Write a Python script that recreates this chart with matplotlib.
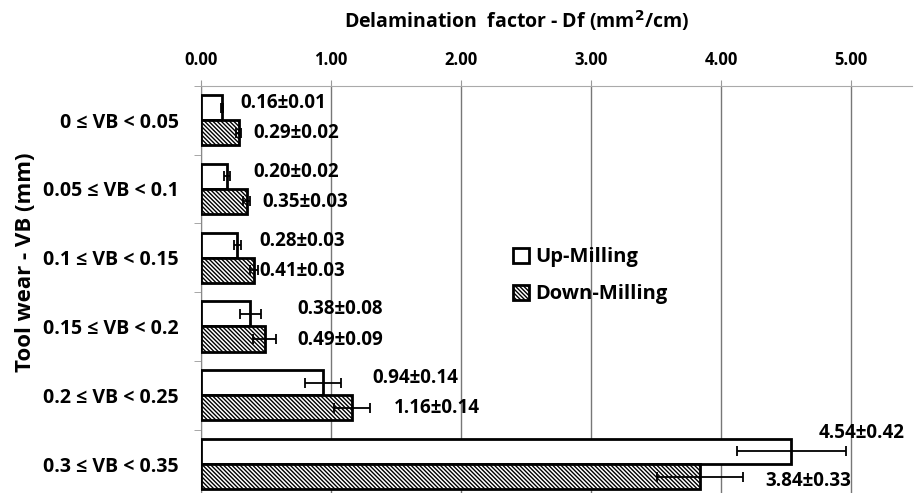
import matplotlib
matplotlib.use('Agg')
import matplotlib.pyplot as plt
import numpy as np
from matplotlib.patches import Patch

plt.rcParams['font.family'] = ['Open Sans', 'DejaVu Sans']
plt.rcParams['hatch.linewidth'] = 1.0

# data
categories = ['0 ≤ VB < 0.05', '0.05 ≤ VB < 0.1', '0.1 ≤ VB < 0.15',
              '0.15 ≤ VB < 0.2', '0.2 ≤ VB < 0.25', '0.3 ≤ VB < 0.35']
up_mean = [0.16, 0.20, 0.28, 0.38, 0.94, 4.54]
up_err = [0.01, 0.02, 0.03, 0.08, 0.14, 0.42]
down_mean = [0.29, 0.35, 0.41, 0.49, 1.16, 3.84]
down_err = [0.02, 0.03, 0.03, 0.09, 0.14, 0.33]
x_ticks = [0, 1, 2, 3, 4, 5]

# label positions (data x)
up_label_x = [0.30, 0.40, 0.45, 0.74, 1.32, 4.75]
down_label_x = [0.40, 0.47, 0.45, 0.74, 1.48, 4.34]

fig = plt.figure(figsize=(9.14, 4.93), dpi=100)
ax = fig.add_axes([0.22, -0.011, 0.778, 0.837])

hatch = '\\' * 8

y = np.arange(len(categories))
h = 0.365
ax.barh(y - h / 2, up_mean, height=h, color='white', edgecolor='black',
        linewidth=2, zorder=3)
ax.barh(y + h / 2, down_mean, height=h, color='white', edgecolor='black',
        linewidth=2, hatch=hatch, zorder=3)
ax.errorbar(up_mean, y - h / 2, xerr=up_err, fmt='none', ecolor='black',
            elinewidth=1.3, capsize=3.5, capthick=1.3, zorder=4)
ax.errorbar(down_mean, y + h / 2, xerr=down_err, fmt='none', ecolor='black',
            elinewidth=1.3, capsize=3.5, capthick=1.3, zorder=4)

for i in range(len(categories)):
    up_dy = -0.25 if i < len(categories) - 1 else -0.45
    down_dy = 0.19 if i < len(categories) - 1 else 0.24
    ax.text(up_label_x[i], y[i] + up_dy, f'{up_mean[i]:.2f}±{up_err[i]:.2f}',
            ha='left', va='center', fontsize=13.5, fontweight='bold', zorder=5)
    ax.text(down_label_x[i], y[i] + down_dy, f'{down_mean[i]:.2f}±{down_err[i]:.2f}',
            ha='left', va='center', fontsize=13.5, fontweight='bold', zorder=5)

ax.set_xlim(0, 5.47)
ax.set_ylim(len(categories) - 0.5, -0.5)
ax.xaxis.tick_top()
ax.xaxis.set_label_position('top')
ax.set_xticks(x_ticks)
ax.set_xticklabels([f'{v:.2f}' for v in x_ticks], fontsize=12, fontweight='bold')
ax.tick_params(axis='x', length=4, color='#999999', pad=8)
ax.set_xlabel('Delamination  factor - Df (mm$^\\mathbf{2}$/cm)', fontsize=14,
              fontweight='bold')
ax.xaxis.set_label_coords(0.443, 1.128)
ax.xaxis.label.set_va('bottom')

ax.set_yticks(y)
ax.set_yticklabels(categories, fontsize=14, fontweight='bold')
ax.tick_params(axis='y', length=0, pad=16)
ax.set_yticks(np.arange(len(categories) + 1) - 0.5, minor=True)
ax.tick_params(axis='y', which='minor', length=5, color='#999999')
ax.set_ylabel('Tool wear - VB (mm)', fontsize=16, fontweight='bold')
ax.yaxis.set_label_coords(-0.2475, 0.573)
ax.yaxis.label.set_va('center')

ax.grid(axis='x', color='#777777', linewidth=1, zorder=0)
ax.set_axisbelow(True)
for side in ['right', 'bottom']:
    ax.spines[side].set_visible(False)
ax.spines['top'].set_color('#aaaaaa')
ax.spines['left'].set_color('#888888')

handles = [Patch(facecolor='white', edgecolor='black', linewidth=2),
           Patch(facecolor='white', edgecolor='black', linewidth=2, hatch=hatch)]
fig.legend(handles, ['Up-Milling', 'Down-Milling'], loc='upper left',
           bbox_to_anchor=(0.541, 0.535), frameon=False, handlelength=0.8,
           handleheight=0.8, handletextpad=0.3, labelspacing=0.85,
           prop={'size': 14.5, 'weight': 'bold'})

fig.savefig('out.png', dpi=100)
